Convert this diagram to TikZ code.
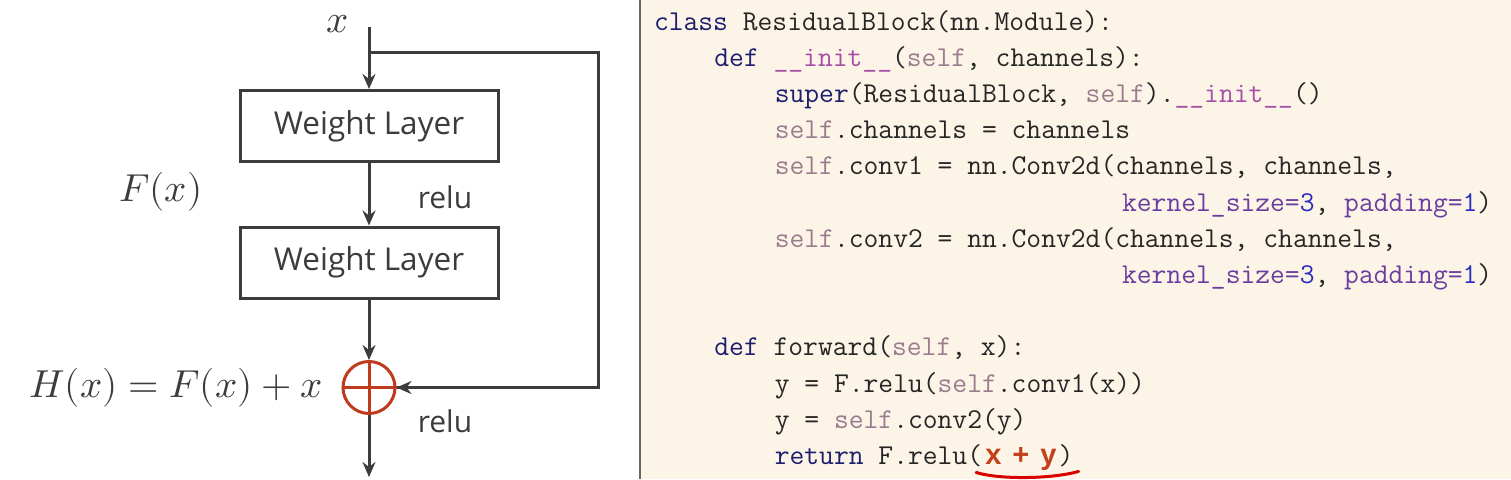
\documentclass[tikz,border=0pt]{standalone}
\usepackage{fontspec}
\usepackage{unicode-math}
\setmathfont{Latin Modern Math}
\newfontfamily\labfont{Open Sans}
\newfontfamily\xyfont{Liberation Sans}
\usetikzlibrary{arrows.meta}
\definecolor{cream}{HTML}{FCF5E7}
\definecolor{ink}{HTML}{3C3C3C}
\definecolor{txt}{HTML}{262626}
\definecolor{kwc}{HTML}{1E1E6E}
\definecolor{inic}{HTML}{A64FA6}
\definecolor{slfc}{HTML}{9B7B8E}
\definecolor{argc}{HTML}{6B3D9E}
\definecolor{numc}{HTML}{2B2BC0}
\definecolor{plusred}{HTML}{C03A1E}
\definecolor{xyred}{HTML}{C4401A}
\newcommand\ckw[1]{\textcolor{kwc}{#1}}
\newcommand\cini[1]{\textcolor{inic}{#1}}
\newcommand\cslf[1]{\textcolor{slfc}{#1}}
\newcommand\carg[1]{\textcolor{argc}{#1}}
\newcommand\cnum[1]{\textcolor{numc}{#1}}
\begin{document}
\begin{tikzpicture}[x=1pt,y=-1pt,
  wbox/.style={draw=ink, line width=3pt, minimum width=258pt, minimum height=71pt, inner sep=0pt,
    font=\labfont\fontsize{31.5}{31.5}\selectfont, text=ink},
  lab/.style={font=\labfont\fontsize{30}{30}\selectfont, text=ink, inner sep=0pt},
  mlab/.style={font=\fontsize{39}{39}\selectfont, text=ink, inner sep=0pt},
  wire/.style={draw=ink, line width=3pt},
  arr/.style={wire, -{Stealth[length=15pt, width=13pt, inset=5pt]}},
  codeline/.style={anchor=base west, inner sep=0pt, outer sep=0pt,
    font=\ttfamily\fontsize{28.75}{28.75}\selectfont, text=txt}]
\useasboundingbox (0,0) rectangle (1511,479);
\fill[white] (0,0) rectangle (640,479);
\fill[cream] (640,0) rectangle (1511,479);
\draw[draw=gray!80!black, line width=2pt] (640,0) -- (640,479);

% ---------- left diagram ----------
\node[mlab] (xin) at (338,24) {$x$};
\coordinate (top) at (369,27);
\coordinate (split) at (369,52.5);
\coordinate (rt) at (598,52.5);
\node[wbox] (w1) at (369,126) {Weight Layer};
\node[wbox] (w2) at (369,262.5) {Weight Layer};
\node[circle, draw=plusred, line width=3pt, minimum size=52pt, inner sep=0pt] (plus) at (369,387.5) {};
\coordinate (out) at (369,477);
\draw[plusred, line width=3pt] (plus.north) -- (plus.south) (plus.west) -- (plus.east);

\draw[arr] (top) -- (w1.north);
\draw[wire] (split) -- (rt) |- (plus.east);
\draw[arr] (rt |- plus.east) -- (plus.east);
\draw[arr] (w1.south) -- (w2.north);
\draw[arr] (w2.south) -- (plus.north);
\draw[arr] (plus.south) -- (out);

\node[lab] (relu1) at (445,197) {relu};
\node[lab] (relu2) at (445,421) {relu};
\node[mlab] (fx) at (161,192) {$F(x)$};
\node[mlab] (hx) at (176,388) {$H(x)=F(x)+x$};

% ---------- code ----------
\node[codeline] (c0) at (654,30) {\ckw{class} ResidualBlock(nn.Module):};
\node[codeline] (c1) at (714.4,66.2) {\ckw{def} \cini{\_\_init\_\_}(\cslf{self}, channels):};
\node[codeline] (c2) at (774.8,102.4) {\ckw{super}(ResidualBlock, \cslf{self}).\cini{\_\_init\_\_}()};
\node[codeline] (c3) at (774.8,138.6) {\cslf{self}.channels = channels};
\node[codeline] (c4) at (774.8,174.8) {\cslf{self}.conv1 = nn.Conv2d(channels, channels,};
\node[codeline] (c5) at (1122.1,211) {\carg{kernel\_size=}\cnum{3}, \carg{padding=}\cnum{1})};
\node[codeline] (c6) at (774.8,247.2) {\cslf{self}.conv2 = nn.Conv2d(channels, channels,};
\node[codeline] (c7) at (1122.1,283.4) {\carg{kernel\_size=}\cnum{3}, \carg{padding=}\cnum{1})};
\node[codeline] (c9) at (714.4,355.8) {\ckw{def} forward(\cslf{self}, x):};
\node[codeline] (c10) at (774.8,392) {y = F.relu(\cslf{self}.conv1(x))};
\node[codeline] (c11) at (774.8,428.2) {y = \cslf{self}.conv2(y)};
\node[codeline] (c12) at (774.8,464.4) {\ckw{return} F.relu(};
\node[anchor=base west, inner sep=0pt, font=\xyfont\bfseries\fontsize{29}{29}\selectfont, text=xyred] (xy) at ([xshift=3pt]c12.base east) {x\kern 11pt+\kern 11pt y};
\node[codeline] (c12b) at ([xshift=2pt]xy.base east) {)};
\draw[red!85!black, line width=3pt, line cap=round]
  ([xshift=-9pt,yshift=-8pt]xy.base west) .. controls ([xshift=12pt,yshift=-15pt]xy.base west) and ([xshift=-6pt,yshift=-15pt]xy.base east) .. ([xshift=22pt,yshift=-7pt]xy.base east);
\end{tikzpicture}
\end{document}
